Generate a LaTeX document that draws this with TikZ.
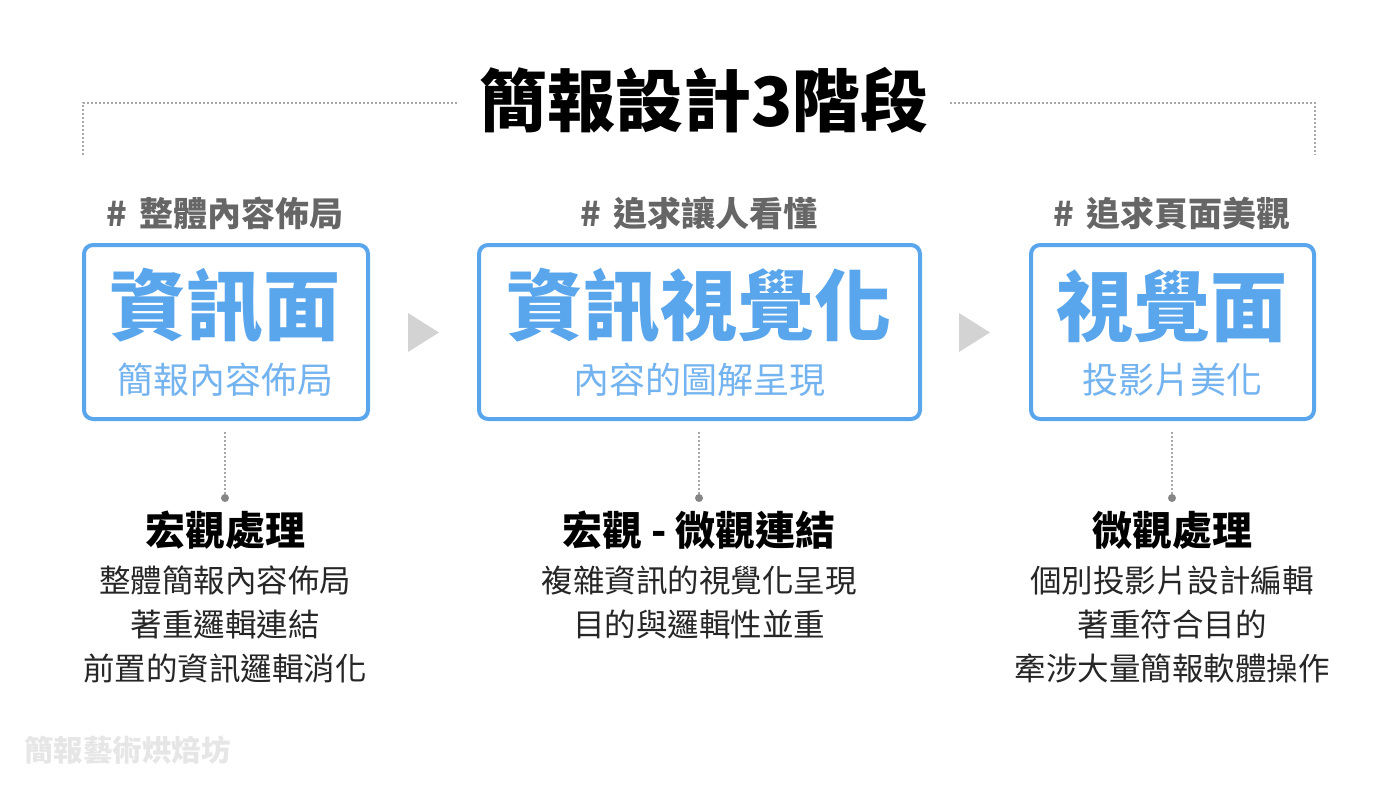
\documentclass[tikz,border=0pt]{standalone}
\usepackage{fontspec}
\setmainfont{Noto Sans CJK TC}
\definecolor{boxblue}{HTML}{5AA6EC}
\definecolor{tagtext}{HTML}{666666}
\definecolor{dotgray}{HTML}{A8A8A8}
\definecolor{trigray}{HTML}{D3D3D3}
\definecolor{wmgray}{HTML}{E6E6E6}
\tikzset{
  stagebox/.style={draw=boxblue, line width=4pt, rounded corners=9pt, fill=white},
  tagtxt/.style={font=\fontsize{34}{38}\selectfont\bfseries, text=tagtext, inner sep=0pt},
  maintxt/.style={font=\fontsize{77}{80}\selectfont\bfseries, text=boxblue, inner sep=0pt},
  subtxt/.style={font=\fontsize{36}{40}\selectfont, text=boxblue!85, inner sep=0pt},
  headtxt/.style={font=\fontsize{40}{44}\selectfont\bfseries, text=black, inner sep=0pt},
  bodytxt/.style={font=\fontsize{31.5}{44}\selectfont, text=black!85, inner sep=0pt, align=center},
  dotline/.style={draw=dotgray, line width=2pt, dash pattern=on 2pt off 2pt},
  tri/.style={fill=trigray, draw=none}
}
\begin{document}
\begin{tikzpicture}[x=1pt,y=-1pt]
\useasboundingbox (0,0) rectangle (1400,787);
% title
\node[font=\fontsize{68}{74}\selectfont\bfseries, inner sep=0pt] (title) at (704,100) {簡報設計3階段};
\coordinate (bl) at (83,155);
\coordinate (bltop) at (83,103);
\coordinate (tl) at (458,103);
\coordinate (tr) at (950,103);
\coordinate (brtop) at (1315,103);
\coordinate (br) at (1315,155);
\draw[dotline] (bl) -- (bltop) -- (tl);
\draw[dotline] (tr) -- (brtop) -- (br);
% tags
\node[tagtxt] (tag1) at (225,213) {\#\hspace{4pt} 整體內容佈局};
\node[tagtxt] (tag2) at (699,213) {\#\hspace{4pt} 追求讓人看懂};
\node[tagtxt] (tag3) at (1172,213) {\#\hspace{4pt} 追求頁面美觀};
% boxes
\draw[stagebox] (84,245) rectangle (368,419);
\draw[stagebox] (479,245) rectangle (920,419);
\draw[stagebox] (1031,245) rectangle (1314,419);
\coordinate (b1bot) at (225,432);
\coordinate (b2bot) at (699,432);
\coordinate (b3bot) at (1172,432);
\node[maintxt] (m1) at (225,306) {資訊面};
\node[maintxt] (m2) at (699,306) {資訊視覺化};
\node[maintxt] (m3) at (1172,306) {視覺面};
\node[subtxt] (s1) at (225,380) {簡報內容佈局};
\node[subtxt] (s2) at (699,380) {內容的圖解呈現};
\node[subtxt] (s3) at (1172,380) {投影片美化};
% triangles
\fill[tri] (408,313) -- (439,332.5) -- (408,352) -- cycle;
\fill[tri] (959,313) -- (990,332.5) -- (959,352) -- cycle;
% dotted connectors with dots
\coordinate (d1) at (225,498);
\coordinate (d2) at (699,498);
\coordinate (d3) at (1172,498);
\draw[dotline] (b1bot) -- (d1);
\draw[dotline] (b2bot) -- (d2);
\draw[dotline] (b3bot) -- (d3);
\fill[dotgray!80!black] (d1) circle (4pt);
\fill[dotgray!80!black] (d2) circle (4pt);
\fill[dotgray!80!black] (d3) circle (4pt);
% headings
\node[headtxt] (h1) at (225,530) {宏觀處理};
\node[headtxt] (h2) at (699,530) {宏觀 - 微觀連結};
\node[headtxt] (h3) at (1172,530) {微觀處理};
% bodies
\node[bodytxt, anchor=north] (t1) at (225,566) {整體簡報內容佈局\\著重邏輯連結\\前置的資訊邏輯消化};
\node[bodytxt, anchor=north] (t2) at (699,566) {複雜資訊的視覺化呈現\\目的與邏輯性並重};
\node[bodytxt, anchor=north] (t3) at (1172,566) {個別投影片設計編輯\\著重符合目的\\牽涉大量簡報軟體操作};
% watermark
\node[font=\fontsize{29.5}{32}\selectfont\bfseries, text=wmgray, inner sep=0pt, anchor=west] (wm) at (24,750) {簡報藝術烘焙坊};
\end{tikzpicture}
\end{document}
